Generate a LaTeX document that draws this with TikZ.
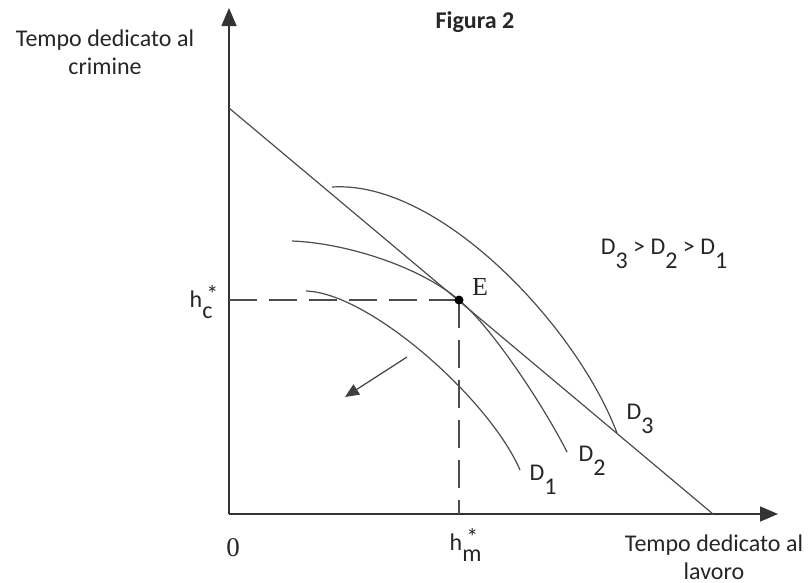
\documentclass[tikz,border=0pt]{standalone}
\usepackage{fontspec}
\setmainfont{Carlito}
\newfontfamily\timesfont{Liberation Serif}
\usetikzlibrary{arrows.meta}

% lowered index, as the figure prints it
\newcommand{\lowidx}[1]{\raisebox{-0.6em}{#1}}
\newcommand{\Dlab}[1]{D\lowidx{#1}}
\newcommand{\hstar}[1]{h\rlap{\raisebox{-0.47em}{#1}}\raisebox{0.22em}{\,*}}

\begin{document}
\begin{tikzpicture}[x=1pt,y=-1pt,
    every node/.style={font=\fontsize{24}{28}\selectfont, text=black!85},
    axis/.style={line width=1.6pt, black!80, -{Triangle[length=18pt,width=15pt]}},
    budget/.style={line width=1.2pt, black!70},
    curve/.style={line width=1.2pt, black!70},
    guide/.style={line width=1.2pt, black!70, dash pattern=on 28pt off 12pt}]
    \useasboundingbox (0,0) rectangle (809,582);

    % Axes
    \coordinate (O) at (229,514);
    \coordinate (ytip) at (229,8);
    \coordinate (xtip) at (778,514);
    \draw[axis] (O) -- (ytip);
    \draw[axis] (O) -- (xtip);

    % Budget line
    \coordinate (btop) at (229,108);
    \coordinate (bend) at (713,514);
    \draw[budget] (btop) -- (bend);

    % Equilibrium
    \coordinate (E) at (459,300);
    \coordinate (hc) at (229,300);
    \coordinate (hm) at (459,514);
    \draw[guide] (hc) -- (E);
    \draw[guide] (E) -- (hm);

    % Curves D1, D2, D3
    \draw[curve] (306,291) .. controls (370,293) and (490,400) .. (520,470);
    \draw[curve] (292,241) .. controls (345,243) and (419,266) .. (E)
        .. controls (494,329) and (547,412) .. (567,452);
    \draw[curve] (332,187) .. controls (440,180) and (577,327) .. (617,433);
    \fill (E) circle (4.5pt);

    % Arrow
    \coordinate (arrfrom) at (407,357);
    \coordinate (arrto) at (345,397);
    \draw[line width=1.2pt, black!75, -{Triangle[length=14pt,width=12pt]}] (arrfrom) -- (arrto);

    % Labels
    \node[font=\fontsize{24}{28}\selectfont\bfseries] (title) at (475,22) {Figura 2};
    \node[align=center] (ylabel) at (105,52) {Tempo dedicato al\\crimine};
    \node[align=center] (xlabel) at (714,557) {Tempo dedicato al\\lavoro};
    \node[font=\fontsize{27}{30}\selectfont\timesfont] (zero) at (233,548) {0};
    \node[font=\fontsize{26}{30}\selectfont\timesfont] (Elab) at (480,287) {E};
    \node (hclab) at (204,302) {\hstar{c}};
    \node (hmlab) at (464,545) {\hstar{m}};
    \node (order) at (664,254) {\Dlab{3} > \Dlab{2} > \Dlab{1}};
    \node (D1) at (543,480) {\Dlab{1}};
    \node (D2) at (592,461) {\Dlab{2}};
    \node (D3) at (640,419) {\Dlab{3}};
\end{tikzpicture}
\end{document}
